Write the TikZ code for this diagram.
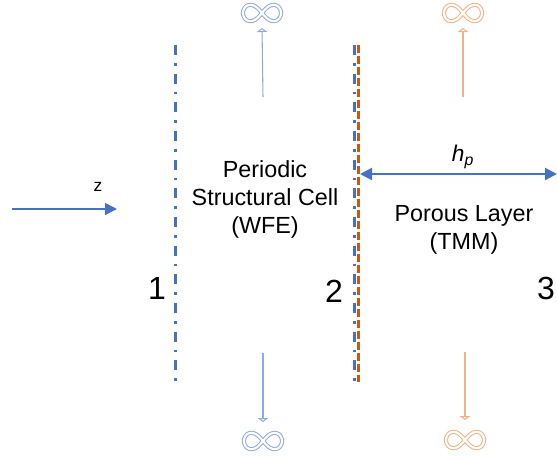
\documentclass[tikz,border=0pt]{standalone}
\usepackage{fontspec}
\setmainfont{Liberation Sans}
\usepackage{tikz}
\usetikzlibrary{arrows.meta,positioning,calc}
\definecolor{WFEblue}{HTML}{4472C4}
\definecolor{WFElight}{HTML}{8FAADC}
\definecolor{TMMorange}{HTML}{C55A11}
\definecolor{TMMlight}{HTML}{F4B183}
\tikzset{
  plane/dashdot/.style={WFEblue, line width=2.25pt, dash pattern=on 7.5pt off 6pt on 2pt off 6pt},
  plane/dashed/.style={TMMorange, line width=2.25pt, dash pattern=on 6pt off 2.25pt},
  lbl/text/.style={font=\fontsize{17.5}{21}\selectfont, align=center},
  lbl/num/.style={font=\fontsize{24}{28}\selectfont, inner sep=0pt},
  lbl/small/.style={font=\fontsize{13}{15}\selectfont, inner sep=1pt},
  arr/solid/.style={WFEblue, line width=1.2pt, -{Triangle[length=9pt,width=9pt]}},
  arr/both/.style={WFEblue, line width=1.5pt, {Triangle[length=9pt,width=9pt]}-{Triangle[length=9pt,width=9pt]}},
  arr/thin/.style={line width=0.8pt, -{Triangle[open,length=3pt,width=8pt]}},
  infbox/.style={inner sep=0pt, minimum width=30pt, minimum height=12pt},
  lemni/.pic={
    \draw[#1, line width=0.75pt, double=white, double distance=1.6pt]
      plot[domain=0:360, samples=90, smooth cycle]
      ({19*cos(\x)/(1+sin(\x)^2)},{23*sin(\x)*cos(\x)/(1+sin(\x)^2)});
  }
}

\begin{document}
\begin{tikzpicture}[x=0.75pt, y=-0.75pt]
  \useasboundingbox (0,0) rectangle (557,455);

  % reference planes
  \coordinate (p1t) at (175,45);  \coordinate (p1b) at (175,382);
  \coordinate (p2t) at (354,45);  \coordinate (p2b) at (354,382);
  \coordinate (p2ot) at (358,45); \coordinate (p2ob) at (358,382);
  \draw[plane/dashdot] (p1t) -- (p1b);
  \draw[plane/dashdot] (p2t) -- (p2b);
  \draw[plane/dashed] (p2ot) -- (p2ob);

  \node[lbl/num] (n1) at (157,288) {1};
  \node[lbl/num] (n2) at (334,291) {2};
  \node[lbl/num] (n3) at (546,288) {3};

  % texts
  \node[lbl/text] (cell) at (265,199) {Periodic\\Structural Cell\\(WFE)};
  \node[lbl/text] (layer) at (464,230) {Porous Layer\\(TMM)};

  % incidence
  \coordinate (zs) at (12,209); \coordinate (ze) at (117,209);
  \draw[arr/solid] (zs) -- (ze);
  \node[lbl/small] (z) at (98,187) {z};

  % thickness
  \coordinate (hs) at (360,174); \coordinate (he) at (557,174);
  \draw[arr/both] (hs) -- (he);
  \node[lbl/small, font=\fontsize{17}{19}\selectfont] (hp) at (463,157) {\textit{h}\textsubscript{\textit{p}}};

  % infinite directions
  \node[infbox] (infBU) at (262,13) {};  \pic at (infBU) {lemni=WFElight};
  \node[infbox] (infBD) at (263,441) {}; \pic at (infBD) {lemni=WFElight};
  \node[infbox] (infOU) at (463,13) {};  \pic at (infOU) {lemni=TMMlight};
  \node[infbox] (infOD) at (465,440) {}; \pic at (infOD) {lemni=TMMlight};

  \coordinate (bu) at (263,97);  \coordinate (bd) at (263,353);
  \coordinate (ou) at (463,97);  \coordinate (od) at (465,352);
  \draw[arr/thin, WFElight] (bu) -- (infBU.south|-0,28);
  \draw[arr/thin, WFElight] (bd) -- (infBD.north|-0,422);
  \draw[arr/thin, TMMlight] (ou) -- (infOU.south|-0,28);
  \draw[arr/thin, TMMlight] (od) -- (infOD.north|-0,420);
\end{tikzpicture}
\end{document}
